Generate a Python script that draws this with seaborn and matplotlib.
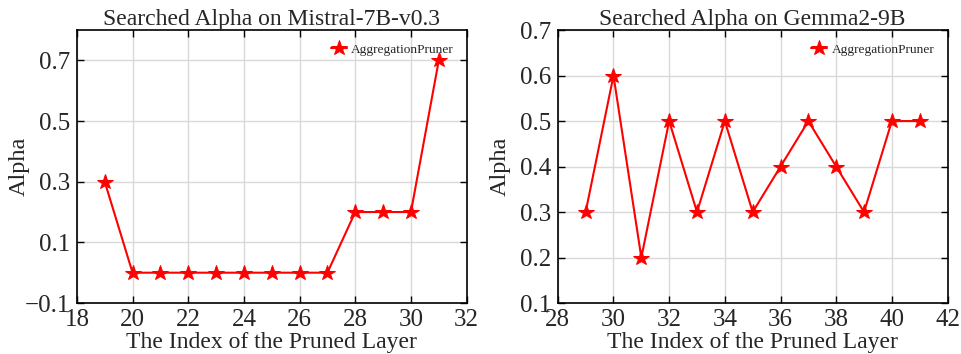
import matplotlib
matplotlib.use("Agg")
import matplotlib.pyplot as plt
import seaborn as sns
import pandas as pd

mistral_layers = [19, 20, 21, 22, 23, 24, 25, 26, 27, 28, 29, 30, 31]
mistral_alpha = [0.3, 0.0, 0.0, 0.0, 0.0, 0.0, 0.0, 0.0, 0.0, 0.2, 0.2, 0.2, 0.7]
gemma_layers = [29, 30, 31, 32, 33, 34, 35, 36, 37, 38, 39, 40, 41]
gemma_alpha = [0.3, 0.6, 0.2, 0.5, 0.3, 0.5, 0.3, 0.4, 0.5, 0.4, 0.3, 0.5, 0.5]

sns.set_theme(style="whitegrid")
plt.rcParams['font.family'] = ['Liberation Serif', 'DejaVu Serif']

fig, axes = plt.subplots(1, 2, figsize=(9.61, 3.54), dpi=100)
fig.subplots_adjust(left=0.080, right=0.986, bottom=0.144, top=0.915, wspace=0.234)

panels = [
    (axes[0], mistral_layers, mistral_alpha, "Searched Alpha on Mistral-7B-v0.3",
     (18, 32), range(18, 33, 2), (-0.1, 0.8), [-0.1, 0.1, 0.3, 0.5, 0.7]),
    (axes[1], gemma_layers, gemma_alpha, "Searched Alpha on Gemma2-9B",
     (28, 42), range(28, 43, 2), (0.1, 0.7), [0.1, 0.2, 0.3, 0.4, 0.5, 0.6, 0.7]),
]

for ax, xs, ys, title, xl, xt, yl, yt in panels:
    df = pd.DataFrame({"layer": xs, "alpha": ys})
    sns.lineplot(data=df, x="layer", y="alpha", ax=ax, color="red", marker="*",
                 markersize=11.5, markeredgecolor="red", linewidth=1.5,
                 label="AggregationPruner")
    ax.set_xlim(*xl)
    ax.set_ylim(*yl)
    ax.set_xticks(list(xt))
    ax.set_yticks(yt)
    ax.set_yticklabels([f"{v:.1f}".replace("-", "\u2212") for v in yt])
    ax.set_title(title, fontsize=17, pad=4)
    ax.set_xlabel("The Index of the Pruned Layer", fontsize=17, labelpad=1)
    ax.set_ylabel("Alpha", fontsize=17.5)
    ax.yaxis.set_label_coords(-0.120, 0.5)
    ax.tick_params(axis="both", direction="in", labelsize=18, length=5, width=1,
                   top=True, right=True, bottom=True, left=True, color="black")
    ax.tick_params(axis="y", pad=5)
    ax.tick_params(axis="x", pad=4)
    ax.grid(True, color="#d9d9d9", linewidth=1)
    ax.set_facecolor("white")
    for s in ax.spines.values():
        s.set_color("black")
        s.set_linewidth(1.2)
    ax.legend(loc="upper right", fontsize=9.6, frameon=False, handlelength=1.2,
              handletextpad=0.3, borderaxespad=0.6)

fig.savefig("out.png", dpi=100)
